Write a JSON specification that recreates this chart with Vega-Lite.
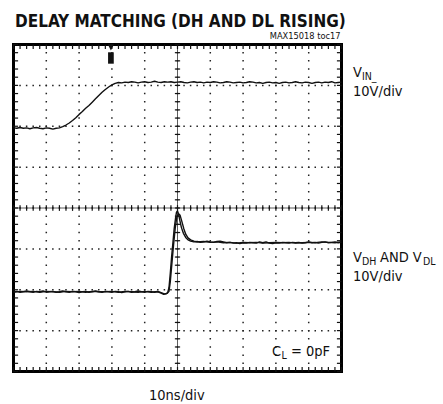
{
  "$schema": "https://vega.github.io/schema/vega-lite/v6.json",
  "width": 328,
  "height": 327,
  "autosize": "none",
  "padding": {"left": 13.5, "top": 44.5, "right": 101.5, "bottom": 32.5},
  "background": "white",
  "view": {"stroke": "#000", "strokeWidth": 3},
  "config": {"axis": {"disable": true}, "text": {"font": "DejaVu Sans Condensed, DejaVu Sans, sans-serif", "color": "#111"}},
  "data": {"values": [{}]},
  "datasets": {
    "gx": [{"x": 1}, {"x": 2}, {"x": 3}, {"x": 4}, {"x": 5}, {"x": 6}, {"x": 7}, {"x": 8}, {"x": 9}],
    "gy": [{"y": 1}, {"y": 2}, {"y": 3}, {"y": 4}, {"y": 5}, {"y": 6}, {"y": 7}],
    "mx": [{"x": 0}, {"x": 0.2}, {"x": 0.4}, {"x": 0.6}, {"x": 0.8}, {"x": 1}, {"x": 1.2}, {"x": 1.4}, {"x": 1.6}, {"x": 1.8}, {"x": 2}, {"x": 2.2}, {"x": 2.4}, {"x": 2.6}, {"x": 2.8}, {"x": 3}, {"x": 3.2}, {"x": 3.4}, {"x": 3.6}, {"x": 3.8}, {"x": 4}, {"x": 4.2}, {"x": 4.4}, {"x": 4.6}, {"x": 4.8}, {"x": 5}, {"x": 5.2}, {"x": 5.4}, {"x": 5.6}, {"x": 5.8}, {"x": 6}, {"x": 6.2}, {"x": 6.4}, {"x": 6.6}, {"x": 6.8}, {"x": 7}, {"x": 7.2}, {"x": 7.4}, {"x": 7.6}, {"x": 7.8}, {"x": 8}, {"x": 8.2}, {"x": 8.4}, {"x": 8.6}, {"x": 8.8}, {"x": 9}, {"x": 9.2}, {"x": 9.4}, {"x": 9.6}, {"x": 9.8}, {"x": 10}],
    "my": [{"y": 0}, {"y": 0.2}, {"y": 0.4}, {"y": 0.6}, {"y": 0.8}, {"y": 1}, {"y": 1.2}, {"y": 1.4}, {"y": 1.6}, {"y": 1.8}, {"y": 2}, {"y": 2.2}, {"y": 2.4}, {"y": 2.6}, {"y": 2.8}, {"y": 3}, {"y": 3.2}, {"y": 3.4}, {"y": 3.6}, {"y": 3.8}, {"y": 4}, {"y": 4.2}, {"y": 4.4}, {"y": 4.6}, {"y": 4.8}, {"y": 5}, {"y": 5.2}, {"y": 5.4}, {"y": 5.6}, {"y": 5.8}, {"y": 6}, {"y": 6.2}, {"y": 6.4}, {"y": 6.6}, {"y": 6.8}, {"y": 7}, {"y": 7.2}, {"y": 7.4}, {"y": 7.6}, {"y": 7.8}, {"y": 8}],
    "traces": [
      {"ch": "VIN", "t": 0.0, "v": 5.96}, {"ch": "VIN", "t": 0.1, "v": 5.95}, {"ch": "VIN", "t": 0.2, "v": 5.97}, {"ch": "VIN", "t": 0.3, "v": 5.95}, {"ch": "VIN", "t": 0.4, "v": 5.96}, {"ch": "VIN", "t": 0.5, "v": 5.94}, {"ch": "VIN", "t": 0.6, "v": 5.96}, {"ch": "VIN", "t": 0.7, "v": 5.97}, {"ch": "VIN", "t": 0.8, "v": 5.95}, {"ch": "VIN", "t": 0.9, "v": 5.94},
      {"ch": "VIN", "t": 1.0, "v": 5.96}, {"ch": "VIN", "t": 1.1, "v": 5.95}, {"ch": "VIN", "t": 1.2, "v": 5.93}, {"ch": "VIN", "t": 1.3, "v": 5.95}, {"ch": "VIN", "t": 1.4, "v": 5.96}, {"ch": "VIN", "t": 1.5, "v": 5.99}, {"ch": "VIN", "t": 1.6, "v": 6.03}, {"ch": "VIN", "t": 1.7, "v": 6.08}, {"ch": "VIN", "t": 1.8, "v": 6.14}, {"ch": "VIN", "t": 1.9, "v": 6.21},
      {"ch": "VIN", "t": 2.0, "v": 6.29}, {"ch": "VIN", "t": 2.1, "v": 6.36}, {"ch": "VIN", "t": 2.2, "v": 6.44}, {"ch": "VIN", "t": 2.3, "v": 6.51}, {"ch": "VIN", "t": 2.4, "v": 6.59}, {"ch": "VIN", "t": 2.5, "v": 6.67}, {"ch": "VIN", "t": 2.6, "v": 6.75}, {"ch": "VIN", "t": 2.7, "v": 6.83}, {"ch": "VIN", "t": 2.8, "v": 6.9}, {"ch": "VIN", "t": 2.9, "v": 6.96},
      {"ch": "VIN", "t": 3.0, "v": 7.01}, {"ch": "VIN", "t": 3.1, "v": 7.05}, {"ch": "VIN", "t": 3.2, "v": 7.07}, {"ch": "VIN", "t": 3.3, "v": 7.06}, {"ch": "VIN", "t": 3.4, "v": 7.08}, {"ch": "VIN", "t": 3.5, "v": 7.07}, {"ch": "VIN", "t": 3.6, "v": 7.09}, {"ch": "VIN", "t": 3.7, "v": 7.08}, {"ch": "VIN", "t": 3.8, "v": 7.06}, {"ch": "VIN", "t": 3.9, "v": 7.08},
      {"ch": "VIN", "t": 4.0, "v": 7.09}, {"ch": "VIN", "t": 4.1, "v": 7.07}, {"ch": "VIN", "t": 4.2, "v": 7.08}, {"ch": "VIN", "t": 4.3, "v": 7.1}, {"ch": "VIN", "t": 4.4, "v": 7.08}, {"ch": "VIN", "t": 4.5, "v": 7.07}, {"ch": "VIN", "t": 4.6, "v": 7.09}, {"ch": "VIN", "t": 4.7, "v": 7.08}, {"ch": "VIN", "t": 4.8, "v": 7.09}, {"ch": "VIN", "t": 4.9, "v": 7.07},
      {"ch": "VIN", "t": 5.0, "v": 7.08}, {"ch": "VIN", "t": 5.1, "v": 7.09}, {"ch": "VIN", "t": 5.2, "v": 7.07}, {"ch": "VIN", "t": 5.3, "v": 7.06}, {"ch": "VIN", "t": 5.4, "v": 7.08}, {"ch": "VIN", "t": 5.5, "v": 7.09}, {"ch": "VIN", "t": 5.6, "v": 7.07}, {"ch": "VIN", "t": 5.7, "v": 7.08}, {"ch": "VIN", "t": 5.8, "v": 7.06}, {"ch": "VIN", "t": 5.9, "v": 7.08},
      {"ch": "VIN", "t": 6.0, "v": 7.07}, {"ch": "VIN", "t": 6.1, "v": 7.09}, {"ch": "VIN", "t": 6.2, "v": 7.08}, {"ch": "VIN", "t": 6.3, "v": 7.06}, {"ch": "VIN", "t": 6.4, "v": 7.07}, {"ch": "VIN", "t": 6.5, "v": 7.09}, {"ch": "VIN", "t": 6.6, "v": 7.08}, {"ch": "VIN", "t": 6.7, "v": 7.06}, {"ch": "VIN", "t": 6.8, "v": 7.07}, {"ch": "VIN", "t": 6.9, "v": 7.08},
      {"ch": "VIN", "t": 7.0, "v": 7.06}, {"ch": "VIN", "t": 7.1, "v": 7.07}, {"ch": "VIN", "t": 7.2, "v": 7.09}, {"ch": "VIN", "t": 7.3, "v": 7.08}, {"ch": "VIN", "t": 7.4, "v": 7.06}, {"ch": "VIN", "t": 7.5, "v": 7.07}, {"ch": "VIN", "t": 7.6, "v": 7.05}, {"ch": "VIN", "t": 7.7, "v": 7.07}, {"ch": "VIN", "t": 7.8, "v": 7.08}, {"ch": "VIN", "t": 7.9, "v": 7.06},
      {"ch": "VIN", "t": 8.0, "v": 7.07}, {"ch": "VIN", "t": 8.1, "v": 7.05}, {"ch": "VIN", "t": 8.2, "v": 7.07}, {"ch": "VIN", "t": 8.3, "v": 7.08}, {"ch": "VIN", "t": 8.4, "v": 7.06}, {"ch": "VIN", "t": 8.5, "v": 7.07}, {"ch": "VIN", "t": 8.6, "v": 7.09}, {"ch": "VIN", "t": 8.7, "v": 7.07}, {"ch": "VIN", "t": 8.8, "v": 7.06}, {"ch": "VIN", "t": 8.9, "v": 7.08},
      {"ch": "VIN", "t": 9.0, "v": 7.07}, {"ch": "VIN", "t": 9.1, "v": 7.05}, {"ch": "VIN", "t": 9.2, "v": 7.07}, {"ch": "VIN", "t": 9.3, "v": 7.08}, {"ch": "VIN", "t": 9.4, "v": 7.06}, {"ch": "VIN", "t": 9.5, "v": 7.08}, {"ch": "VIN", "t": 9.6, "v": 7.07}, {"ch": "VIN", "t": 9.7, "v": 7.09}, {"ch": "VIN", "t": 9.8, "v": 7.06}, {"ch": "VIN", "t": 9.9, "v": 7.07}, {"ch": "VIN", "t": 10.0, "v": 7.08},
      {"ch": "VDH", "t": 0.0, "v": 1.95}, {"ch": "VDH", "t": 0.1, "v": 1.96}, {"ch": "VDH", "t": 0.2, "v": 1.94}, {"ch": "VDH", "t": 0.3, "v": 1.95}, {"ch": "VDH", "t": 0.4, "v": 1.97}, {"ch": "VDH", "t": 0.5, "v": 1.95}, {"ch": "VDH", "t": 0.6, "v": 1.94}, {"ch": "VDH", "t": 0.7, "v": 1.96}, {"ch": "VDH", "t": 0.8, "v": 1.95}, {"ch": "VDH", "t": 0.9, "v": 1.97},
      {"ch": "VDH", "t": 1.0, "v": 1.94}, {"ch": "VDH", "t": 1.1, "v": 1.95}, {"ch": "VDH", "t": 1.2, "v": 1.96}, {"ch": "VDH", "t": 1.3, "v": 1.94}, {"ch": "VDH", "t": 1.4, "v": 1.95}, {"ch": "VDH", "t": 1.5, "v": 1.97}, {"ch": "VDH", "t": 1.6, "v": 1.95}, {"ch": "VDH", "t": 1.7, "v": 1.94}, {"ch": "VDH", "t": 1.8, "v": 1.96}, {"ch": "VDH", "t": 1.9, "v": 1.95},
      {"ch": "VDH", "t": 2.0, "v": 1.93}, {"ch": "VDH", "t": 2.1, "v": 1.95}, {"ch": "VDH", "t": 2.2, "v": 1.96}, {"ch": "VDH", "t": 2.3, "v": 1.94}, {"ch": "VDH", "t": 2.4, "v": 1.95}, {"ch": "VDH", "t": 2.5, "v": 1.97}, {"ch": "VDH", "t": 2.6, "v": 1.95}, {"ch": "VDH", "t": 2.7, "v": 1.94}, {"ch": "VDH", "t": 2.8, "v": 1.96}, {"ch": "VDH", "t": 2.9, "v": 1.95},
      {"ch": "VDH", "t": 3.0, "v": 1.94}, {"ch": "VDH", "t": 3.1, "v": 1.96}, {"ch": "VDH", "t": 3.2, "v": 1.95}, {"ch": "VDH", "t": 3.3, "v": 1.93}, {"ch": "VDH", "t": 3.4, "v": 1.95}, {"ch": "VDH", "t": 3.5, "v": 1.96}, {"ch": "VDH", "t": 3.6, "v": 1.94}, {"ch": "VDH", "t": 3.7, "v": 1.95}, {"ch": "VDH", "t": 3.8, "v": 1.97}, {"ch": "VDH", "t": 3.9, "v": 1.95},
      {"ch": "VDH", "t": 4.0, "v": 1.94}, {"ch": "VDH", "t": 4.1, "v": 1.96}, {"ch": "VDH", "t": 4.2, "v": 1.95}, {"ch": "VDH", "t": 4.3, "v": 1.94}, {"ch": "VDH", "t": 4.4, "v": 1.95}, {"ch": "VDH", "t": 4.5, "v": 1.92}, {"ch": "VDH", "t": 4.58, "v": 1.89}, {"ch": "VDH", "t": 4.65, "v": 1.9}, {"ch": "VDH", "t": 4.7, "v": 1.93}, {"ch": "VDH", "t": 4.74, "v": 2.05},
      {"ch": "VDH", "t": 4.78, "v": 2.4}, {"ch": "VDH", "t": 4.82, "v": 2.8}, {"ch": "VDH", "t": 4.86, "v": 3.15}, {"ch": "VDH", "t": 4.9, "v": 3.5}, {"ch": "VDH", "t": 4.94, "v": 3.75}, {"ch": "VDH", "t": 4.97, "v": 3.9}, {"ch": "VDH", "t": 5.0, "v": 3.93}, {"ch": "VDH", "t": 5.03, "v": 3.86}, {"ch": "VDH", "t": 5.07, "v": 3.7}, {"ch": "VDH", "t": 5.12, "v": 3.52},
      {"ch": "VDH", "t": 5.18, "v": 3.38}, {"ch": "VDH", "t": 5.25, "v": 3.28}, {"ch": "VDH", "t": 5.32, "v": 3.22}, {"ch": "VDH", "t": 5.4, "v": 3.19}, {"ch": "VDH", "t": 5.5, "v": 3.17}, {"ch": "VDH", "t": 5.6, "v": 3.18}, {"ch": "VDH", "t": 5.7, "v": 3.16}, {"ch": "VDH", "t": 5.8, "v": 3.17}, {"ch": "VDH", "t": 5.9, "v": 3.19}, {"ch": "VDH", "t": 6.0, "v": 3.17},
      {"ch": "VDH", "t": 6.1, "v": 3.16}, {"ch": "VDH", "t": 6.2, "v": 3.18}, {"ch": "VDH", "t": 6.3, "v": 3.19}, {"ch": "VDH", "t": 6.4, "v": 3.17}, {"ch": "VDH", "t": 6.5, "v": 3.15}, {"ch": "VDH", "t": 6.6, "v": 3.16}, {"ch": "VDH", "t": 6.7, "v": 3.14}, {"ch": "VDH", "t": 6.8, "v": 3.15}, {"ch": "VDH", "t": 6.9, "v": 3.13}, {"ch": "VDH", "t": 7.0, "v": 3.15},
      {"ch": "VDH", "t": 7.1, "v": 3.14}, {"ch": "VDH", "t": 7.2, "v": 3.16}, {"ch": "VDH", "t": 7.3, "v": 3.15}, {"ch": "VDH", "t": 7.4, "v": 3.14}, {"ch": "VDH", "t": 7.5, "v": 3.17}, {"ch": "VDH", "t": 7.6, "v": 3.15}, {"ch": "VDH", "t": 7.7, "v": 3.17}, {"ch": "VDH", "t": 7.8, "v": 3.14}, {"ch": "VDH", "t": 7.9, "v": 3.13}, {"ch": "VDH", "t": 8.0, "v": 3.15},
      {"ch": "VDH", "t": 8.1, "v": 3.14}, {"ch": "VDH", "t": 8.2, "v": 3.16}, {"ch": "VDH", "t": 8.3, "v": 3.15}, {"ch": "VDH", "t": 8.4, "v": 3.14}, {"ch": "VDH", "t": 8.5, "v": 3.16}, {"ch": "VDH", "t": 8.6, "v": 3.15}, {"ch": "VDH", "t": 8.7, "v": 3.16}, {"ch": "VDH", "t": 8.8, "v": 3.14}, {"ch": "VDH", "t": 8.9, "v": 3.15}, {"ch": "VDH", "t": 9.0, "v": 3.17},
      {"ch": "VDH", "t": 9.1, "v": 3.15}, {"ch": "VDH", "t": 9.2, "v": 3.16}, {"ch": "VDH", "t": 9.3, "v": 3.14}, {"ch": "VDH", "t": 9.4, "v": 3.16}, {"ch": "VDH", "t": 9.5, "v": 3.17}, {"ch": "VDH", "t": 9.6, "v": 3.15}, {"ch": "VDH", "t": 9.7, "v": 3.16}, {"ch": "VDH", "t": 9.8, "v": 3.17}, {"ch": "VDH", "t": 9.9, "v": 3.15}, {"ch": "VDH", "t": 10.0, "v": 3.16},
      {"ch": "VDL", "t": 0.0, "v": 1.94}, {"ch": "VDL", "t": 0.2, "v": 1.96}, {"ch": "VDL", "t": 0.4, "v": 1.95}, {"ch": "VDL", "t": 0.6, "v": 1.96}, {"ch": "VDL", "t": 0.8, "v": 1.94}, {"ch": "VDL", "t": 1.0, "v": 1.96}, {"ch": "VDL", "t": 1.2, "v": 1.95}, {"ch": "VDL", "t": 1.4, "v": 1.94}, {"ch": "VDL", "t": 1.6, "v": 1.96}, {"ch": "VDL", "t": 1.8, "v": 1.95},
      {"ch": "VDL", "t": 2.0, "v": 1.96}, {"ch": "VDL", "t": 2.2, "v": 1.94}, {"ch": "VDL", "t": 2.4, "v": 1.96}, {"ch": "VDL", "t": 2.6, "v": 1.95}, {"ch": "VDL", "t": 2.8, "v": 1.95}, {"ch": "VDL", "t": 3.0, "v": 1.96}, {"ch": "VDL", "t": 3.2, "v": 1.94}, {"ch": "VDL", "t": 3.4, "v": 1.96}, {"ch": "VDL", "t": 3.6, "v": 1.95}, {"ch": "VDL", "t": 3.8, "v": 1.94},
      {"ch": "VDL", "t": 4.0, "v": 1.96}, {"ch": "VDL", "t": 4.2, "v": 1.94}, {"ch": "VDL", "t": 4.4, "v": 1.96}, {"ch": "VDL", "t": 4.5, "v": 1.93}, {"ch": "VDL", "t": 4.6, "v": 1.9}, {"ch": "VDL", "t": 4.68, "v": 1.91}, {"ch": "VDL", "t": 4.74, "v": 1.96}, {"ch": "VDL", "t": 4.78, "v": 2.2}, {"ch": "VDL", "t": 4.83, "v": 2.65}, {"ch": "VDL", "t": 4.88, "v": 3.1},
      {"ch": "VDL", "t": 4.93, "v": 3.5}, {"ch": "VDL", "t": 4.98, "v": 3.78}, {"ch": "VDL", "t": 5.03, "v": 3.86}, {"ch": "VDL", "t": 5.08, "v": 3.82}, {"ch": "VDL", "t": 5.13, "v": 3.68}, {"ch": "VDL", "t": 5.19, "v": 3.5}, {"ch": "VDL", "t": 5.25, "v": 3.36}, {"ch": "VDL", "t": 5.32, "v": 3.27}, {"ch": "VDL", "t": 5.4, "v": 3.22}, {"ch": "VDL", "t": 5.5, "v": 3.19},
      {"ch": "VDL", "t": 5.6, "v": 3.17}, {"ch": "VDL", "t": 5.8, "v": 3.18}, {"ch": "VDL", "t": 6.0, "v": 3.16}, {"ch": "VDL", "t": 6.2, "v": 3.17}, {"ch": "VDL", "t": 6.4, "v": 3.15}, {"ch": "VDL", "t": 6.6, "v": 3.16}, {"ch": "VDL", "t": 6.8, "v": 3.14}, {"ch": "VDL", "t": 7.0, "v": 3.16}, {"ch": "VDL", "t": 7.2, "v": 3.15}, {"ch": "VDL", "t": 7.4, "v": 3.16},
      {"ch": "VDL", "t": 7.6, "v": 3.14}, {"ch": "VDL", "t": 7.8, "v": 3.15}, {"ch": "VDL", "t": 8.0, "v": 3.16}, {"ch": "VDL", "t": 8.2, "v": 3.15}, {"ch": "VDL", "t": 8.4, "v": 3.16}, {"ch": "VDL", "t": 8.6, "v": 3.14}, {"ch": "VDL", "t": 8.8, "v": 3.15}, {"ch": "VDL", "t": 9.0, "v": 3.16}, {"ch": "VDL", "t": 9.2, "v": 3.15}, {"ch": "VDL", "t": 9.4, "v": 3.17},
      {"ch": "VDL", "t": 9.6, "v": 3.16}, {"ch": "VDL", "t": 9.8, "v": 3.15}, {"ch": "VDL", "t": 10.0, "v": 3.17}
    ]
  },
  "layer": [
    {
      "data": {"name": "gx"},
      "mark": {"type": "rule", "stroke": "#222", "strokeWidth": 1.5, "strokeDash": [1.5, 6.675], "strokeDashOffset": 0.75},
      "encoding": {
        "x": {"field": "x", "type": "quantitative", "scale": {"domain": [0, 10], "nice": false, "zero": false}},
        "y": {"datum": 0, "scale": {"domain": [0, 8], "nice": false, "zero": false}},
        "y2": {"datum": 8}
      }
    },
    {
      "data": {"name": "gy"},
      "mark": {"type": "rule", "stroke": "#222", "strokeWidth": 1.5, "strokeDash": [1.5, 5.06], "strokeDashOffset": 0.75},
      "encoding": {"y": {"field": "y", "type": "quantitative"}, "x": {"datum": 0}, "x2": {"datum": 10}}
    },
    {"mark": {"type": "rule", "stroke": "#333", "strokeWidth": 0.8}, "encoding": {"x": {"datum": 5}, "y": {"datum": 0}, "y2": {"datum": 8}}},
    {"mark": {"type": "rule", "stroke": "#333", "strokeWidth": 0.8}, "encoding": {"y": {"datum": 4}, "x": {"datum": 0}, "x2": {"datum": 10}}},
    {"data": {"name": "my"}, "mark": {"type": "rule", "stroke": "#111", "strokeWidth": 1.2}, "encoding": {"y": {"field": "y", "type": "quantitative"}, "x": {"datum": 4.92}, "x2": {"datum": 5.08}}},
    {"data": {"name": "mx"}, "mark": {"type": "rule", "stroke": "#111", "strokeWidth": 1.2}, "encoding": {"x": {"field": "x", "type": "quantitative"}, "y": {"datum": 3.93}, "y2": {"datum": 4.07}}},
    {"data": {"name": "mx"}, "mark": {"type": "rule", "stroke": "#111", "strokeWidth": 1.2}, "encoding": {"x": {"field": "x", "type": "quantitative"}, "y": {"datum": 7.89}, "y2": {"datum": 8}}},
    {"data": {"name": "mx"}, "mark": {"type": "rule", "stroke": "#111", "strokeWidth": 1.2}, "encoding": {"x": {"field": "x", "type": "quantitative"}, "y": {"datum": 0}, "y2": {"datum": 0.11}}},
    {"data": {"name": "my"}, "mark": {"type": "rule", "stroke": "#111", "strokeWidth": 1.2}, "encoding": {"y": {"field": "y", "type": "quantitative"}, "x": {"datum": 0}, "x2": {"datum": 0.14}}},
    {"data": {"name": "my"}, "mark": {"type": "rule", "stroke": "#111", "strokeWidth": 1.2}, "encoding": {"y": {"field": "y", "type": "quantitative"}, "x": {"datum": 9.86}, "x2": {"datum": 10}}},
    {
      "data": {"name": "traces"},
      "mark": {"type": "line", "stroke": "#111", "strokeWidth": 1.4, "strokeJoin": "round"},
      "encoding": {"x": {"field": "t", "type": "quantitative"}, "y": {"field": "v", "type": "quantitative"}, "detail": {"field": "ch"}}
    },
    {"mark": {"type": "point", "shape": "M-0.5,-1L0.5,-1L0.5,1L-0.5,1Z", "size": 130, "filled": true, "color": "#111", "opacity": 1}, "encoding": {"x": {"datum": 2.97}, "y": {"datum": 7.67}}},
    {"mark": {"type": "point", "shape": "M-1,-1L1,-1L0,1Z", "size": 40, "filled": true, "color": "#111", "opacity": 1}, "encoding": {"x": {"datum": 2.97}, "y": {"datum": 7.93}}},
    {"mark": {"type": "text", "text": "DELAY MATCHING (DH AND DL RISING)", "fontSize": 17, "fontWeight": "bold", "align": "left", "baseline": "alphabetic"}, "encoding": {"x": {"datum": 0.046}, "y": {"datum": 8.43}}},
    {"mark": {"type": "text", "text": "MAX15018 toc17", "fontSize": 9.2, "align": "right", "baseline": "alphabetic"}, "encoding": {"x": {"datum": 9.97}, "y": {"datum": 8.135}}},
    {"mark": {"type": "text", "text": "V", "fontSize": 14.5, "align": "left", "baseline": "alphabetic"}, "encoding": {"x": {"datum": 10.35}, "y": {"datum": 7.205}}},
    {"mark": {"type": "text", "text": "IN_", "fontSize": 10.5, "align": "left", "baseline": "alphabetic", "dx": 9, "dy": 3}, "encoding": {"x": {"datum": 10.35}, "y": {"datum": 7.205}}},
    {"mark": {"type": "text", "text": "10V/div", "fontSize": 14.5, "align": "left", "baseline": "alphabetic"}, "encoding": {"x": {"datum": 10.35}, "y": {"datum": 6.74}}},
    {"mark": {"type": "text", "text": "V", "fontSize": 14.5, "align": "left", "baseline": "alphabetic"}, "encoding": {"x": {"datum": 10.35}, "y": {"datum": 2.679}}},
    {"mark": {"type": "text", "text": "DH", "fontSize": 10.5, "align": "left", "baseline": "alphabetic", "dx": 9, "dy": 3}, "encoding": {"x": {"datum": 10.35}, "y": {"datum": 2.679}}},
    {"mark": {"type": "text", "text": "AND V", "fontSize": 14.5, "align": "left", "baseline": "alphabetic", "dx": 27}, "encoding": {"x": {"datum": 10.35}, "y": {"datum": 2.679}}},
    {"mark": {"type": "text", "text": "DL", "fontSize": 10.5, "align": "left", "baseline": "alphabetic", "dx": 70, "dy": 3}, "encoding": {"x": {"datum": 10.35}, "y": {"datum": 2.679}}},
    {"mark": {"type": "text", "text": "10V/div", "fontSize": 14.5, "align": "left", "baseline": "alphabetic"}, "encoding": {"x": {"datum": 10.35}, "y": {"datum": 2.214}}},
    {"mark": {"type": "text", "text": "C", "fontSize": 14.5, "align": "left", "baseline": "alphabetic"}, "encoding": {"x": {"datum": 7.88}, "y": {"datum": 0.379}}},
    {"mark": {"type": "text", "text": "L", "fontSize": 10.5, "align": "left", "baseline": "alphabetic", "dx": 9.5, "dy": 3}, "encoding": {"x": {"datum": 7.88}, "y": {"datum": 0.379}}},
    {"mark": {"type": "text", "text": "= 0pF", "fontSize": 14.5, "align": "left", "baseline": "alphabetic", "dx": 19}, "encoding": {"x": {"datum": 7.88}, "y": {"datum": 0.379}}},
    {"mark": {"type": "text", "text": "10ns/div", "fontSize": 14.5, "align": "center", "baseline": "alphabetic"}, "encoding": {"x": {"datum": 4.98}, "y": {"datum": -0.697}}}
  ]
}
